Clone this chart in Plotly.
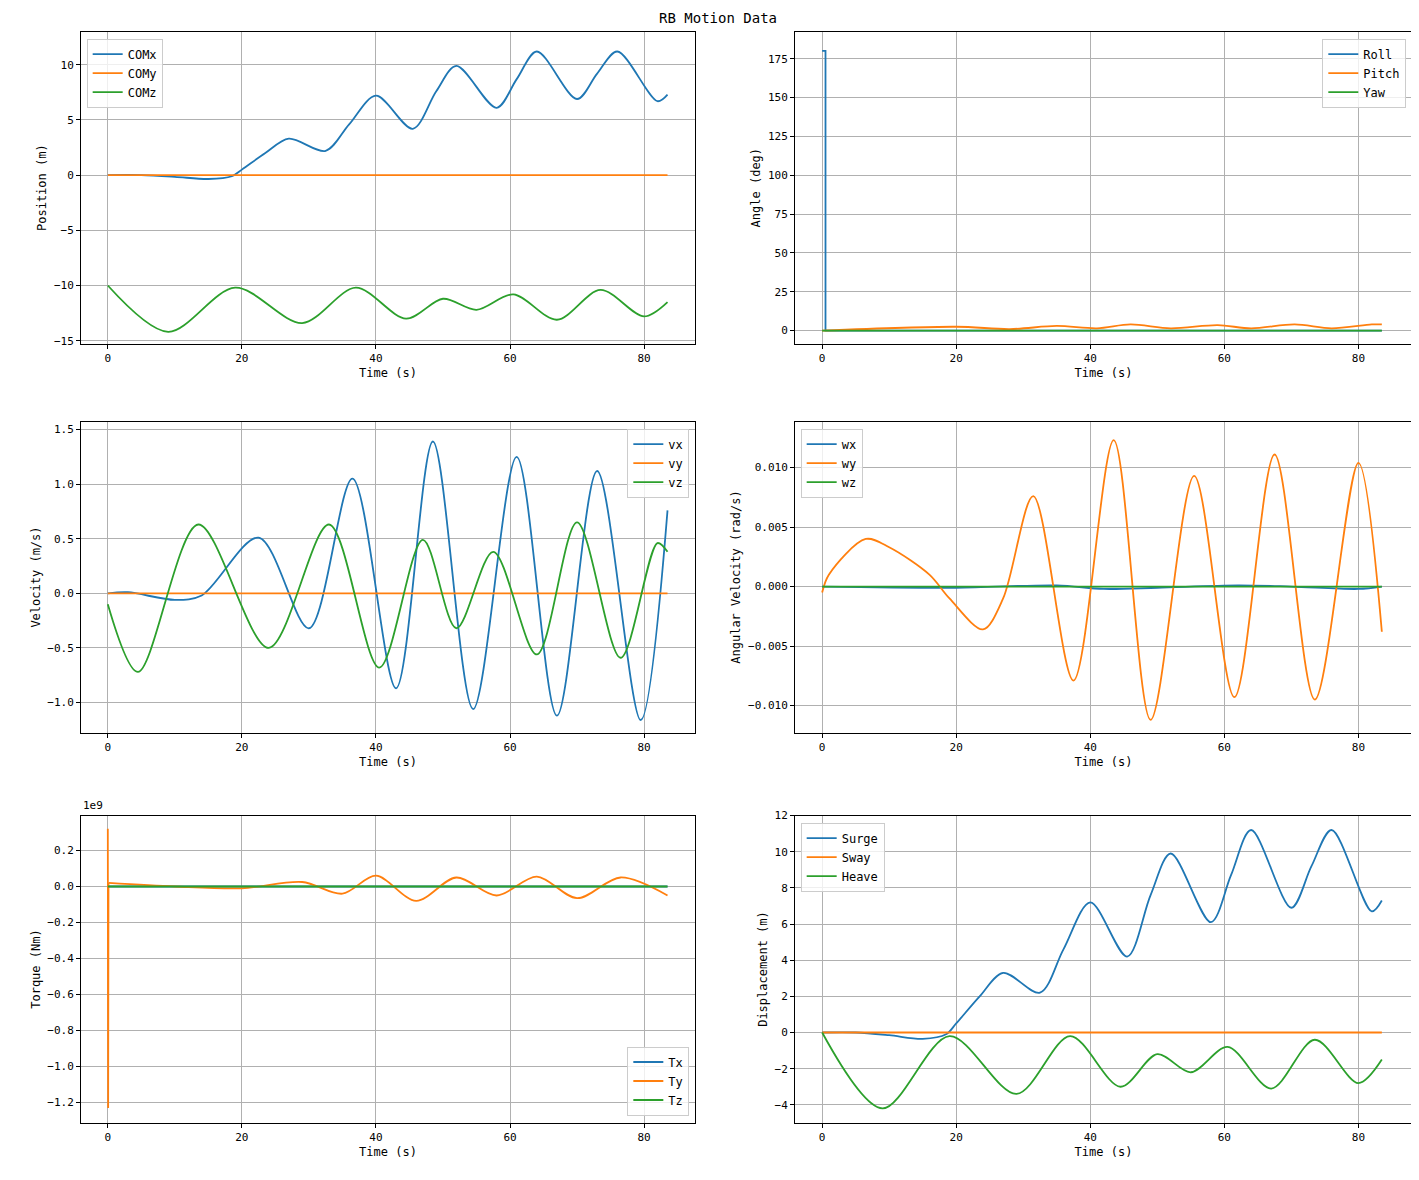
import plotly.graph_objects as go

# ---- data (time keypoints, values) ----
t_comx = [0, 5, 10, 15, 18.5, 20, 23.5, 27, 32.5, 36, 40, 45.5, 49, 52, 58, 61, 64, 70, 73, 76, 82, 83.5]
comx = [0, 0, -0.15, -0.35, -0.1, 0.5, 2.0, 3.3, 2.2, 4.6, 7.2, 4.2, 7.6, 9.9, 6.1, 8.7, 11.2, 6.9, 9.2, 11.2, 6.7, 7.3]
t_comz = [0, 9, 19, 29, 37, 44.5, 50, 55, 60.5, 67, 73.5, 80, 83.5]
comz = [-10, -14.2, -10.2, -13.4, -10.2, -13.0, -11.2, -12.2, -10.8, -13.1, -10.4, -12.8, -11.5]
t_end = [0, 83.5]
zero = [0, 0]

t_roll = [0, 0.5, 0.5, 83.5]
roll = [180, 180, 0, 0]
t_pitch = [0, 20, 28, 35, 41, 46, 52, 59, 64, 70.5, 76, 82, 83.5]
pitch = [0, 2.5, 1, 3, 1.5, 4, 1.5, 3.5, 1.5, 4, 1.5, 4, 4]

t_vx = [0, 3, 10, 14, 22.5, 30, 36.5, 43, 48.5, 54.5, 61, 67, 73, 79.5, 83.5]
vx = [0, 0.01, -0.06, -0.02, 0.51, -0.32, 1.05, -0.87, 1.39, -1.06, 1.25, -1.12, 1.12, -1.16, 0.76]
t_vz = [0, 4.5, 13.5, 24, 33, 40.5, 47, 52, 57.5, 64, 70, 76.5, 82, 83.5]
vz = [-0.1, -0.72, 0.63, -0.5, 0.63, -0.68, 0.49, -0.32, 0.38, -0.56, 0.65, -0.59, 0.46, 0.38]

t_wy = [0, 1, 6.5, 10, 16, 19, 24, 27, 31.5, 37.5, 43.5, 49, 55.5, 61.5, 67.5, 73.5, 80, 83.5]
wy = [-0.0005, 0.001, 0.004, 0.0033, 0.001, -0.001, -0.0036, -0.001, 0.0076, -0.0079, 0.0123, -0.0112, 0.0093, -0.0093, 0.0111, -0.0095, 0.0104, -0.0038]
t_wx = [0, 20, 35, 42, 50, 62, 70, 80, 83.5]
wx = [0, -0.0001, 0.0001, -0.0002, -0.0001, 0.0001, 0.0, -0.0002, 0]

t_tyspike = [0, 0.05, 0.1]
tyspike = [0.32, -1.23, 0.02]  # x1e9
t_ty = [0.1, 10, 20, 29, 35, 40, 46, 52, 58, 64, 70, 76.5, 83.5]
ty = [0.02, 0, -0.01, 0.025, -0.04, 0.06, -0.08, 0.05, -0.05, 0.055, -0.065, 0.05, -0.05]  # x1e9

heave = [v + 10 for v in comz]

C = ['#1f77b4', '#ff7f0e', '#2ca02c']
FONT = "DejaVu Sans Mono"

fig = go.Figure()

def tr(x, y, name, color, xa, ya, leg, shape='spline', show=True):
    fig.add_trace(go.Scatter(x=x, y=y, name=name, mode='lines', showlegend=show,
                             line=dict(color=color, width=1.8, shape=shape, smoothing=0.9),
                             xaxis=xa, yaxis=ya, legend=leg))

tr(t_comx, comx, 'COMx', C[0], 'x', 'y', 'legend')
tr(t_end, zero, 'COMy', C[1], 'x', 'y', 'legend')
tr(t_comz, comz, 'COMz', C[2], 'x', 'y', 'legend')

tr(t_roll, roll, 'Roll', C[0], 'x2', 'y2', 'legend2', 'linear')
tr(t_pitch, pitch, 'Pitch', C[1], 'x2', 'y2', 'legend2')
tr(t_end, zero, 'Yaw', C[2], 'x2', 'y2', 'legend2')

tr(t_vx, vx, 'vx', C[0], 'x3', 'y3', 'legend3')
tr(t_end, zero, 'vy', C[1], 'x3', 'y3', 'legend3')
tr(t_vz, vz, 'vz', C[2], 'x3', 'y3', 'legend3')

tr(t_wx, wx, 'wx', C[0], 'x4', 'y4', 'legend4')
tr(t_wy, wy, 'wy', C[1], 'x4', 'y4', 'legend4')
tr(t_end, zero, 'wz', C[2], 'x4', 'y4', 'legend4')

tr(t_end, zero, 'Tx', C[0], 'x5', 'y5', 'legend5')
tr(t_tyspike, tyspike, 'Ty', C[1], 'x5', 'y5', 'legend5', 'linear', show=False)
tr(t_ty, ty, 'Ty', C[1], 'x5', 'y5', 'legend5')
tr(t_end, zero, 'Tz', C[2], 'x5', 'y5', 'legend5')

tr(t_comx, comx, 'Surge', C[0], 'x6', 'y6', 'legend6')
tr(t_end, zero, 'Sway', C[1], 'x6', 'y6', 'legend6')
tr(t_comz, heave, 'Heave', C[2], 'x6', 'y6', 'legend6')

W, H = 1419, 1180
colx = [(73 / W, 687 / W), (787 / W, 1404 / W)]
rowy = [(1 - 332.5 / H, 1 - 17.8 / H), (1 - 724.7 / H, 1 - 411 / H), (1 - 1118 / H, 1 - 808.4 / H)]
yinfo = [
    ('Position (m)', [-15.27, 13.0], 5, None),
    ('Angle (deg)', [-8.4, 192.4], 25, None),
    ('Velocity (m/s)', [-1.275, 1.573], 0.5, '.1f'),
    ('Angular Velocity (rad/s)', [-0.01227, 0.01387], 0.005, '.3f'),
    ('Torque (Nm)', [-1.311, 0.394], 0.2, '.1f'),
    ('Displacement (m)', [-4.98, 12.0], 2, None),
]
xr = [[-4.0, 87.6], [-4.05, 88.0]]
axstyle = dict(showline=True, linecolor='black', mirror=True, showgrid=True, gridcolor='#b0b0b0',
               gridwidth=1, zeroline=False, ticks='outside', ticklen=4, tickcolor='black',
               tickfont=dict(size=11, color='black'))
legpos = [('left', 'top'), ('right', 'top'), ('right', 'top'), ('left', 'top'), ('right', 'bottom'), ('left', 'top')]
lay = {}
for i in range(6):
    r, c = divmod(i, 2)
    s = '' if i == 0 else str(i + 1)
    lay['xaxis' + s] = dict(axstyle, domain=colx[c], range=xr[c], dtick=20, anchor='y' + s,
                            title=dict(text='Time (s)', font=dict(size=12), standoff=4))
    ttl, rng, dt, fmt = yinfo[i]
    ya = dict(axstyle, domain=rowy[r], range=rng, dtick=dt, anchor='x' + s,
              title=dict(text=ttl, font=dict(size=12), standoff=4))
    if fmt:
        ya['tickformat'] = fmt
    lay['yaxis' + s] = ya
    xa, yan = legpos[i]
    x0, x1 = colx[c]
    y0, y1 = rowy[r]
    lay['legend' + s] = dict(x=(x0 + 0.004) if xa == 'left' else (x1 - 0.004), xanchor=xa,
                             y=(y1 - 0.006) if yan == 'top' else (y0 + 0.006), yanchor=yan,
                             bgcolor='rgba(255,255,255,0.8)', bordercolor='#cccccc', borderwidth=1,
                             font=dict(size=12), tracegroupgap=0)

fig.update_layout(**lay)
fig.add_annotation(text='RB Motion Data', x=0.5, y=1 - 4 / H, xref='paper', yref='paper',
                   showarrow=False, font=dict(size=14), yanchor='middle')
fig.add_annotation(text='1e9', x=73 / W, y=1 - 798 / H, xref='paper', yref='paper',
                   showarrow=False, font=dict(size=11), xanchor='left', yanchor='middle')
fig.update_layout(width=W, height=H, margin=dict(l=0, r=0, t=0, b=0), showlegend=True,
                  plot_bgcolor='white', paper_bgcolor='white',
                  font=dict(family=FONT, color='black'))
fig.write_html('out.html')
